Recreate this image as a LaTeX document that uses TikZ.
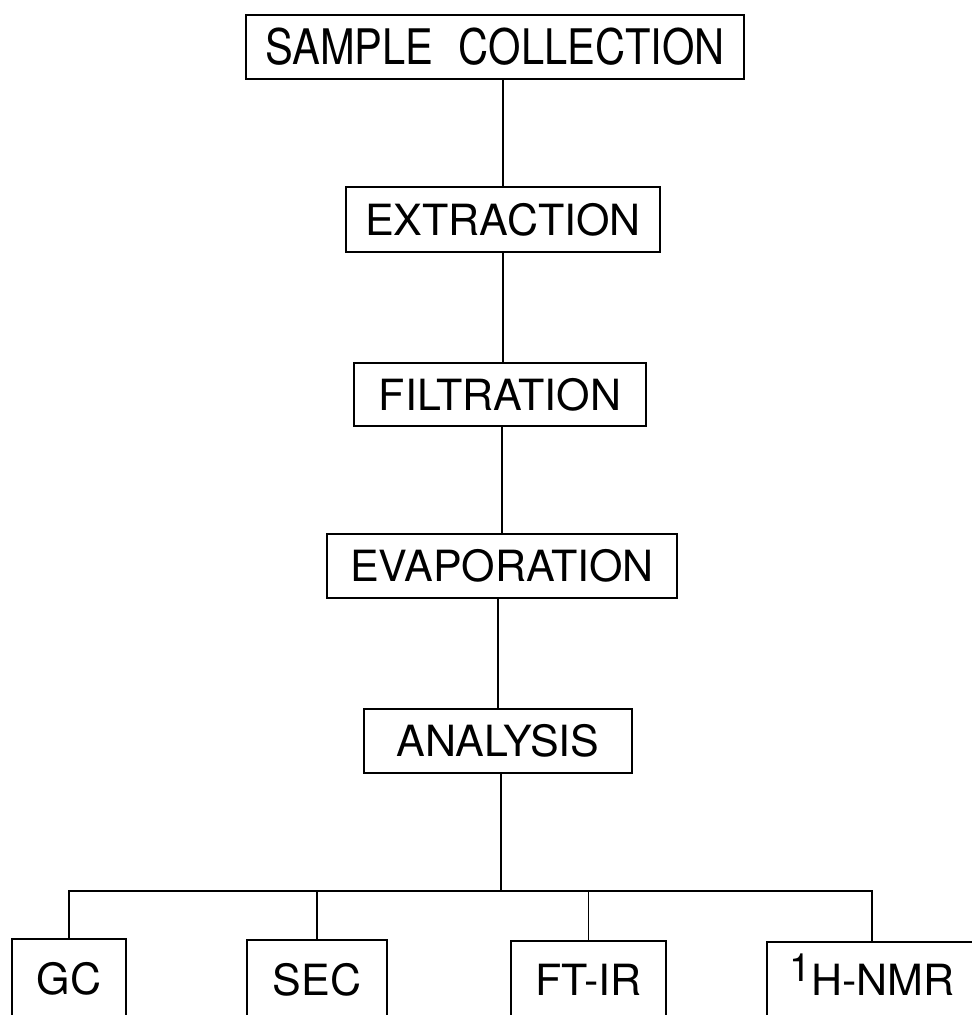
\documentclass[tikz,border=0pt]{standalone}
\usepackage{fontspec}
\setmainfont{TeX Gyre Heros}
\begin{document}
\begin{tikzpicture}[x=1pt,y=-1pt,
  stepbox/.style={draw=black, line width=1.7pt, inner sep=0pt, anchor=center,
    font=\fontsize{43}{50}\selectfont},
  conn/.style={draw=black, line width=1.7pt}]
\clip (0,0) rectangle (972,1015);
\fill[white] (0,0) rectangle (972,1015);
% main chain
\node[stepbox, minimum width=498pt, minimum height=64pt] (S) at (495,47)
  {\fontsize{49}{54}\selectfont\scalebox{0.85}[1]{SAMPLE\hspace{30pt}COLLECTION}};
\node[stepbox, minimum width=314pt, minimum height=65pt] (E) at (503,219.5) {EXTRACTION};
\node[stepbox, minimum width=292pt, minimum height=63pt] (F) at (500,394.5) {FILTRATION};
\node[stepbox, minimum width=350pt, minimum height=64pt] (V) at (502,566) {EVAPORATION};
\node[stepbox, minimum width=268pt, minimum height=64pt] (A) at (498,741) {ANALYSIS};
% bottom row
\node[stepbox, minimum width=114pt, minimum height=80pt] (GC) at (69,979) {GC};
\node[stepbox, minimum width=140pt, minimum height=79pt] (SEC) at (317,979.5) {SEC};
\node[stepbox, minimum width=155pt, minimum height=78pt] (FT) at (588.5,980) {FT-IR};
\node[stepbox, minimum width=210pt, minimum height=76pt] (NMR) at (872,980)
  {\raisebox{14pt}[0pt][0pt]{\fontsize{39}{40}\selectfont 1}H-NMR};
\coordinate (bus) at (501,891);
% connectors
\draw[conn] (E.north |- S.south) -- (E.north);
\draw[conn] (F.north -| E.south) -- (E.south);
\draw[conn] (V.north |- F.south) -- (V.north);
\draw[conn] (A.north |- V.south) -- (A.north);
\draw[conn] (A.south -| bus) -- (bus);
\draw[conn] (GC.north) |- (NMR.north |- bus) -- (NMR.north);
\draw[conn] (SEC.north) -- (SEC.north |- bus);
\draw[conn] (FT.north) -- (FT.north |- bus);
\end{tikzpicture}
\end{document}
